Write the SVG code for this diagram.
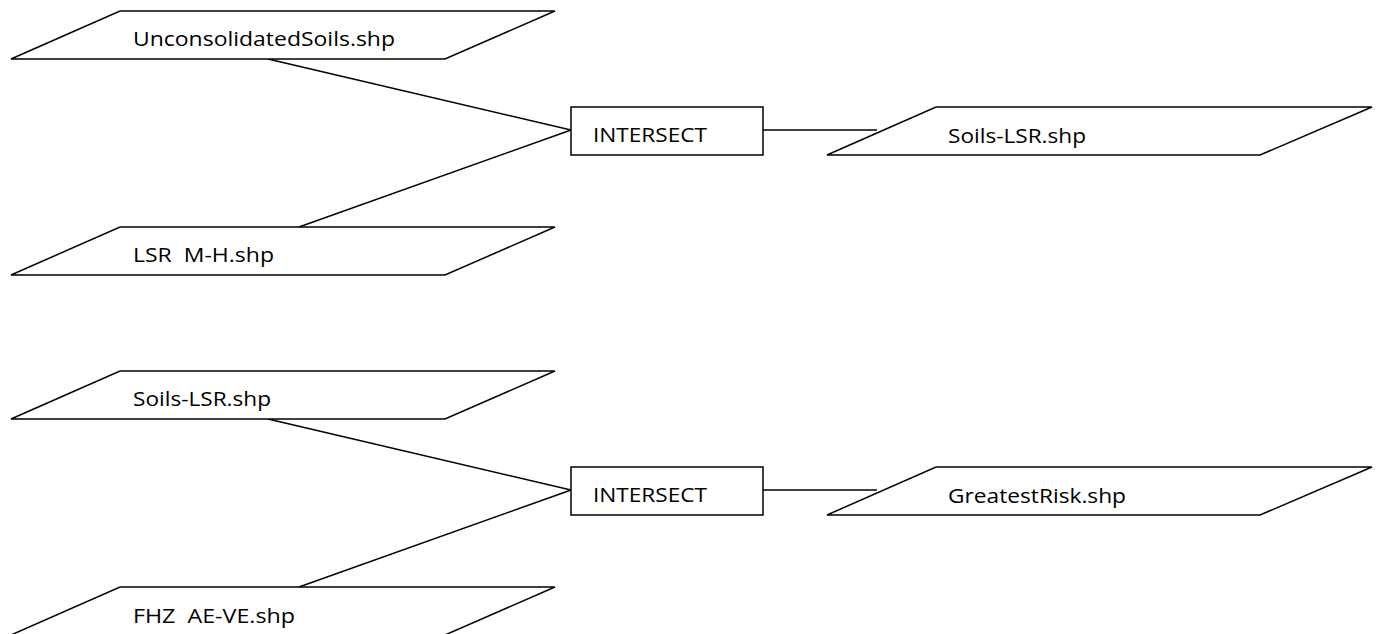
<svg xmlns="http://www.w3.org/2000/svg" width="1377" height="634" viewBox="0 0 1377 634">
  <style>
    .shape { fill: #ffffff; stroke: #000000; stroke-width: 1.5; }
    .conn { fill: none; stroke: #000000; stroke-width: 1.5; }
    .lbl { font-family: "Open Sans", "Liberation Sans", sans-serif; font-size: 20px; fill: #000000; white-space: pre; }
  </style>
  <rect x="0" y="0" width="1377" height="634" fill="#ffffff"/>

  <g id="connectors">
    <line class="conn" x1="268" y1="59" x2="571" y2="130"/>
    <line class="conn" x1="299" y1="227" x2="571" y2="130"/>
    <line class="conn" x1="763" y1="130" x2="877" y2="130"/>
    <line class="conn" x1="268" y1="419" x2="571" y2="490"/>
    <line class="conn" x1="299" y1="587" x2="571" y2="490"/>
    <line class="conn" x1="763" y1="490" x2="877" y2="490"/>
  </g>

  <g id="unconsolidated">
    <polygon class="shape" points="120,11 555,11 445,59 11,59"/>
    <text class="lbl" x="133" y="46" textLength="262" lengthAdjust="spacingAndGlyphs">UnconsolidatedSoils.shp</text>
  </g>

  <g id="lsr-mh">
    <polygon class="shape" points="120,227 555,227 445,275 11,275"/>
    <text class="lbl" x="133" y="262" textLength="141" lengthAdjust="spacingAndGlyphs" xml:space="preserve">LSR  M-H.shp</text>
  </g>

  <g id="intersect1">
    <rect class="shape" x="571" y="107" width="192" height="48"/>
    <text class="lbl" x="593" y="142" textLength="114" lengthAdjust="spacingAndGlyphs">INTERSECT</text>
  </g>

  <g id="soils-lsr-out">
    <polygon class="shape" points="936,107 1372,107 1260,155 827,155"/>
    <text class="lbl" x="948" y="143" textLength="138" lengthAdjust="spacingAndGlyphs">Soils-LSR.shp</text>
  </g>

  <g id="soils-lsr-in">
    <polygon class="shape" points="120,371 555,371 445,419 11,419"/>
    <text class="lbl" x="133" y="406" textLength="138" lengthAdjust="spacingAndGlyphs">Soils-LSR.shp</text>
  </g>

  <g id="fhz">
    <polygon class="shape" points="120,587 555,587 445,635 11,635"/>
    <text class="lbl" x="133" y="623" textLength="162" lengthAdjust="spacingAndGlyphs" xml:space="preserve">FHZ  AE-VE.shp</text>
  </g>

  <g id="intersect2">
    <rect class="shape" x="571" y="467" width="192" height="48"/>
    <text class="lbl" x="593" y="502" textLength="114" lengthAdjust="spacingAndGlyphs">INTERSECT</text>
  </g>

  <g id="greatest-risk">
    <polygon class="shape" points="936,467 1372,467 1260,515 827,515"/>
    <text class="lbl" x="948" y="503" textLength="178" lengthAdjust="spacingAndGlyphs">GreatestRisk.shp</text>
  </g>
</svg>
